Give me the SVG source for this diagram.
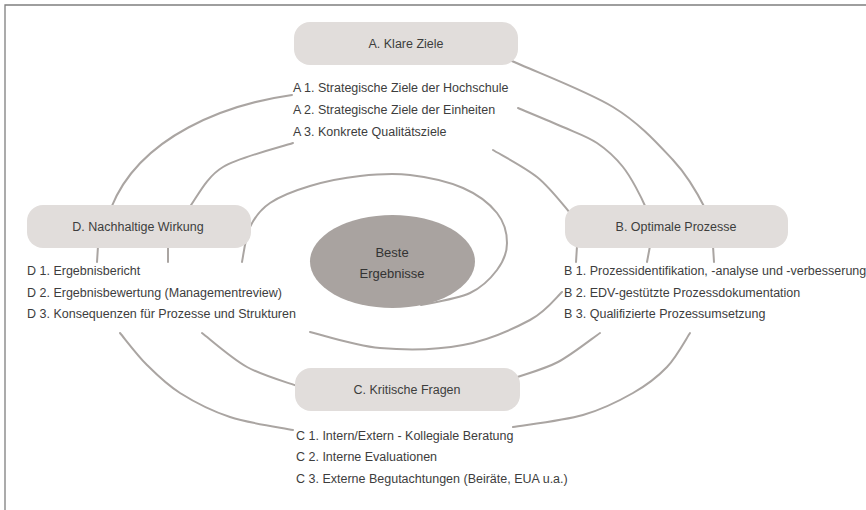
<svg xmlns="http://www.w3.org/2000/svg" width="866" height="510" viewBox="0 0 866 510">
<style>
.frame{stroke:#7f7f7f;stroke-width:1.3;fill:none}
.arc{fill:none;stroke:#aaa5a2;stroke-width:2;stroke-linecap:round}
.box{fill:#e1dddb}
.core{fill:#a9a3a0}
text{font-family:"Liberation Sans",Arial,sans-serif;font-size:12.5px;fill:#3d3d3d}
.t{text-anchor:middle}
.c{text-anchor:middle;font-size:13px;fill:#333}
</style>
<rect x="0" y="0" width="866" height="510" fill="#ffffff"/>
<path class="frame" d="M5,510 V5 H866"/>
<g id="connectors">
<!-- outer turn -->
<path class="arc" d="M510,60 C529.7,69.5 586.3,90.7 613,107 C639.7,123.3 657.7,143.7 673,160 C688.3,176.3 699.7,197.5 706,210"/>
<path class="arc" d="M713,246 L714,262"/>
<path class="arc" d="M690,333 C686.2,338.7 676.5,357 667,367 C657.5,377 647,385 633,393 C619,401 603,409.3 583,415 C563,420.7 524.7,425 513,427"/>
<path class="arc" d="M293,430 C282.5,427.8 248.8,423.2 230,417 C211.2,410.8 193.8,401.7 180,393 C166.2,384.3 157,375 147,365 C137,355 124.5,338.3 120,333"/>
<path class="arc" d="M98,246 L97,262"/>
<path class="arc" d="M111,208 C140,135 228,104 292,95"/>
<!-- middle turn -->
<path class="arc" d="M518,108 C525.5,111.2 549.8,121.2 563,127 C576.2,132.8 587,136.3 597,143 C607,149.7 615,157 623,167 C631,177 641.3,197 646,208"/>
<path class="arc" d="M650,246 L647,262"/>
<path class="arc" d="M600,333 C593,337.8 571.8,354.7 558,362 C544.2,369.3 523.8,374.5 512,379"/>
<path class="arc" d="M300,387 C288.7,382.8 262.8,375.8 247,367 C231.2,358.2 209.5,338.7 202,333"/>
<path class="arc" d="M168,246 L168,262"/>
<path class="arc" d="M189,208 C197.2,197 206.2,177 223,167 C239.8,157 281.3,147 293,143"/>
<!-- inner turn -->
<path class="arc" d="M493,150 C500.3,154.5 524.5,167 537,177 C549.5,187 562.8,204.5 570,213"/>
<path class="arc" d="M577,246 L576,262"/>
<path class="arc" d="M562,292 C556.7,296.7 546.5,311.2 530,320 C513.5,328.8 488,340.3 463,345 C438,349.7 405.5,350.2 380,348 C354.5,345.8 321.7,334.7 310,332"/>
<path class="arc" d="M242,262 C243.3,256.2 245.3,236.8 250,227 C254.7,217.2 260,209.8 270,203 C280,196.2 295,190.5 310,186 C325,181.5 343.3,177.8 360,176 C376.7,174.2 392.8,173 410,175 C427.2,177 448.5,181.7 463,188 C477.5,194.3 489.7,203.8 497,213 C504.3,222.2 507,233.5 507,243 C507,252.5 503.2,261.7 497,270 C490.8,278.3 482.3,287.2 470,293 C457.7,298.8 430.8,303 421,305"/>
</g>
<g id="node-A">
<rect class="box" x="294" y="22" width="224" height="43" rx="16"/>
<text class="t" x="406" y="47.5">A. Klare Ziele</text>
<text x="293" y="92">A 1. Strategische Ziele der Hochschule</text>
<text x="293" y="114">A 2. Strategische Ziele der Einheiten</text>
<text x="293" y="135.5">A 3. Konkrete Qualitätsziele</text>
</g>
<g id="node-B">
<rect class="box" x="565" y="205" width="223" height="43" rx="16"/>
<text class="t" x="676" y="230.5">B. Optimale Prozesse</text>
<text x="564" y="275">B 1. Prozessidentifikation, -analyse und -verbesserung</text>
<text x="564" y="296.5">B 2. EDV-gestützte Prozessdokumentation</text>
<text x="564" y="318">B 3. Qualifizierte Prozessumsetzung</text>
</g>
<g id="node-C">
<rect class="box" x="295" y="368" width="225" height="43" rx="16"/>
<text class="t" x="407" y="393.5">C. Kritische Fragen</text>
<text x="296" y="439.5">C 1. Intern/Extern - Kollegiale Beratung</text>
<text x="296" y="461">C 2. Interne Evaluationen</text>
<text x="296" y="482.5">C 3. Externe Begutachtungen (Beiräte, EUA u.a.)</text>
</g>
<g id="node-D">
<rect class="box" x="27" y="205" width="224" height="43" rx="16"/>
<text class="t" x="138" y="230.5">D. Nachhaltige Wirkung</text>
<text x="27" y="275">D 1. Ergebnisbericht</text>
<text x="27" y="296.5">D 2. Ergebnisbewertung (Managementreview)</text>
<text x="27" y="318">D 3. Konsequenzen für Prozesse und Strukturen</text>
</g>
<g id="node-center">
<ellipse class="core" cx="392.5" cy="261.5" rx="82.5" ry="46.5"/>
<text class="c" x="392" y="256.5">Beste</text>
<text class="c" x="392" y="278">Ergebnisse</text>
</g>
</svg>
